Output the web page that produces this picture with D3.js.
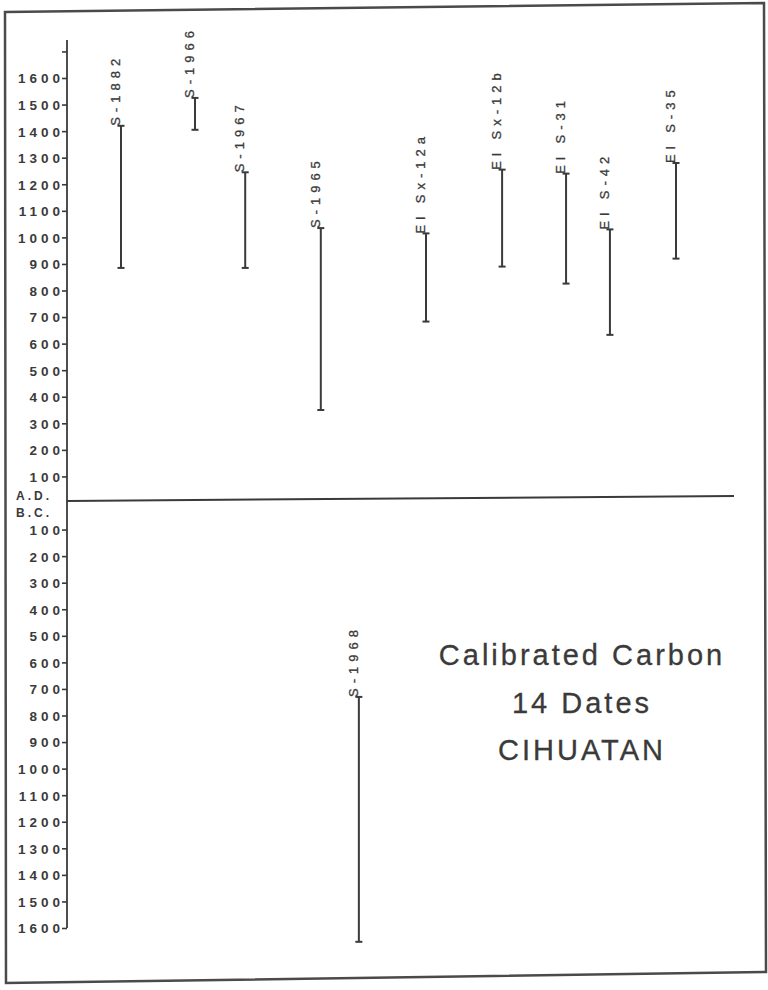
<!DOCTYPE html>
<html>
<head>
<meta charset="utf-8">
<script src="https://cdn.jsdelivr.net/npm/d3@7/dist/d3.min.js"></script>
<style>
  html, body { margin: 0; padding: 0; background: #fff; }
  svg { display: block; }
</style>
</head>
<body>
<svg id="chart" width="768" height="990"></svg>
<script>
// ---- data (years; positive = A.D., negative = B.C.) ----
const labels = ["S-1882", "S-1966", "S-1967", "S-1965", "El Sx-12a", "El Sx-12b", "El S-31", "El S-42", "El S-35", "S-1968"];
const upper  = [1420, 1525, 1245, 1035, 1015, 1255, 1240, 1030, 1280, -730];
const lower  = [885, 1405, 885, 350, 683, 890, 826, 633, 920, -1652];
const slot   = [1, 2.4, 3.35, 4.78, 6.77, 8.21, 9.42, 10.25, 11.5, 5.5];
const tickValues = d3.range(-1600, 1701, 100).filter(v => v !== 0);
const titleLines = ["Calibrated Carbon", "14 Dates", "CIHUATAN"];

const svg = d3.select("#chart");
const ink = "#3a3a3a";
const font = "'Liberation Sans', Arial, sans-serif";

// frame (scanned page border, slightly skewed)
svg.append("path")
  .attr("d", "M5,12 L764,3 L766,972 L6,983 Z")
  .attr("fill", "none").attr("stroke", "#4a4a4a").attr("stroke-width", 2.5);

const y = d3.scaleLinear().domain([1600, -1600]).range([78, 928]);
const x = d3.scaleLinear().domain([1, 11.5]).range([121, 676]);

// axis
const axis = d3.axisLeft(y)
  .tickValues(tickValues)
  .tickSize(5)
  .tickPadding(2)
  .tickFormat(v => v === 1700 ? "" : String(Math.abs(v)));

const gAxis = svg.append("g").attr("transform", "translate(67,0)").call(axis);
gAxis.select(".domain").remove();
gAxis.selectAll(".tick line").attr("stroke", ink).attr("stroke-width", 1.6);
gAxis.selectAll(".tick text")
  .attr("fill", ink)
  .attr("font-family", font)
  .attr("font-size", 13.5)
  .attr("font-weight", "bold")
  .attr("letter-spacing", 4)
  .attr("dx", 4)
  .attr("dy", "0.36em");

// axis line
svg.append("line")
  .attr("x1", 67).attr("x2", 67)
  .attr("y1", 40).attr("y2", y(-1600))
  .attr("stroke", ink).attr("stroke-width", 1.8);

// A.D. / B.C. line
svg.append("line")
  .attr("x1", 67).attr("x2", 734)
  .attr("y1", y(0) - 2).attr("y2", y(0) - 7)
  .attr("stroke", ink).attr("stroke-width", 2);

svg.append("text").text("A.D.")
  .attr("x", 16).attr("y", y(0) - 3)
  .attr("fill", ink).attr("font-family", font)
  .attr("font-size", 12).attr("font-weight", "bold").attr("letter-spacing", 3);
svg.append("text").text("B.C.")
  .attr("x", 16).attr("y", y(0) + 14)
  .attr("fill", ink).attr("font-family", font)
  .attr("font-size", 12).attr("font-weight", "bold").attr("letter-spacing", 3);

// ranges
const data = labels.map((l, i) => ({ label: l, hi: upper[i], lo: lower[i], s: slot[i] }));
const g = svg.append("g").selectAll("g").data(data).join("g");

g.append("line")
  .attr("x1", d => x(d.s)).attr("x2", d => x(d.s))
  .attr("y1", d => y(d.hi)).attr("y2", d => y(d.lo))
  .attr("stroke", ink).attr("stroke-width", 2);
g.append("line")
  .attr("x1", d => x(d.s) - 3.5).attr("x2", d => x(d.s) + 3.5)
  .attr("y1", d => y(d.hi)).attr("y2", d => y(d.hi))
  .attr("stroke", ink).attr("stroke-width", 2);
g.append("line")
  .attr("x1", d => x(d.s) - 3.5).attr("x2", d => x(d.s) + 3.5)
  .attr("y1", d => y(d.lo)).attr("y2", d => y(d.lo))
  .attr("stroke", ink).attr("stroke-width", 2);

g.append("text")
  .text(d => d.label)
  .attr("transform", d => `translate(${x(d.s) - 1},${y(d.hi)}) rotate(-90)`)
  .attr("text-anchor", "start")
  .attr("fill", ink)
  .attr("stroke", ink)
  .attr("stroke-width", 0.3)
  .attr("font-family", font)
  .attr("font-size", 13)
  .attr("letter-spacing", 5);

// title block
svg.append("g").selectAll("text").data(titleLines).join("text")
  .text(d => d)
  .attr("x", 582)
  .attr("y", (d, i) => 665 + i * 47.5)
  .attr("text-anchor", "middle")
  .attr("fill", "#3a3a3a")
  .attr("stroke", "#3a3a3a")
  .attr("stroke-width", 0.3)
  .attr("font-family", font)
  .attr("font-size", 29)
  .attr("letter-spacing", 3);
</script>
</body>
</html>
